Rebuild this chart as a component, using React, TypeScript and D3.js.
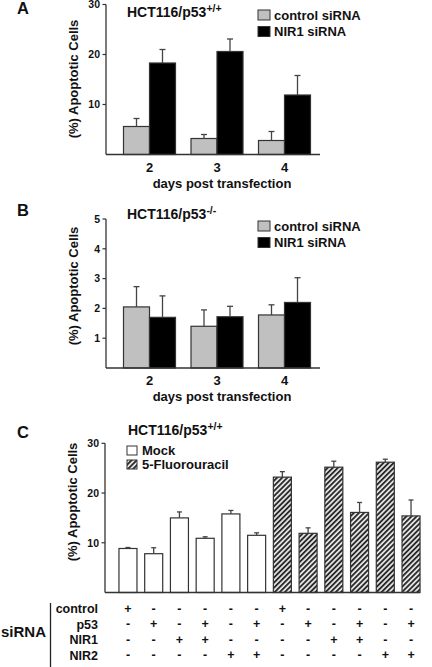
import React from "react";
import * as d3 from "d3";

// ---------- DATA ----------
const days = ["2", "3", "4"];
const seriesAB = ["control siRNA", "NIR1 siRNA"];
const aControl = [5.6, 3.2, 2.8];
const aControlErr = [7.2, 4.0, 4.6];
const aNIR1 = [18.3, 20.6, 11.9];
const aNIR1Err = [21.0, 23.1, 15.8];
const aTicks = [10, 20, 30];

const bControl = [2.05, 1.4, 1.78];
const bControlErr = [2.73, 1.95, 2.12];
const bNIR1 = [1.7, 1.72, 2.2];
const bNIR1Err = [2.42, 2.07, 3.03];
const bTicks = [1, 2, 3, 4, 5];

const cGroups = ["Mock", "5-Fluorouracil"];
const cTreatment = ["Mock", "Mock", "Mock", "Mock", "Mock", "Mock", "5-Fluorouracil", "5-Fluorouracil", "5-Fluorouracil", "5-Fluorouracil", "5-Fluorouracil", "5-Fluorouracil"];
const cValues = [8.85, 7.8, 15.0, 10.9, 15.8, 11.5, 23.2, 11.9, 25.2, 16.1, 26.2, 15.4];
const cErrTop = [9.05, 9.0, 16.2, 11.2, 16.5, 12.0, 24.3, 13.0, 26.4, 18.1, 26.8, 18.6];
const cTicks = [10, 20, 30];
const rowLabels = ["control", "p53", "NIR1", "NIR2"];
const signControl = ["+", "-", "-", "-", "-", "-", "+", "-", "-", "-", "-", "-"];
const signP53 = ["-", "+", "-", "+", "-", "+", "-", "+", "-", "+", "-", "+"];
const signNIR1 = ["-", "-", "+", "+", "-", "-", "-", "-", "+", "+", "-", "-"];
const signNIR2 = ["-", "-", "-", "-", "+", "+", "-", "-", "-", "-", "+", "+"];

const FONT = "'Liberation Sans', Arial, sans-serif";
const AXIS = "#333";
const ERR = "#444";

function YAxis({ x, y, ticks, fs }: { x: number; y: d3.ScaleLinear<number, number>; ticks: number[]; fs: number }) {
  const [y0, y1] = y.range();
  return (
    <g>
      <line x1={x} x2={x} y1={y1} y2={y0} stroke={AXIS} strokeWidth={1.3} />
      {ticks.map((t) => (
        <g key={t}>
          <line x1={x - 3.5} x2={x} y1={y(t)} y2={y(t)} stroke={AXIS} strokeWidth={1.2} />
          <text x={x - 6} y={y(t) + fs * 0.36} textAnchor="end" fontSize={fs} fontWeight="bold" fontFamily={FONT} fill="#111">
            {t}
          </text>
        </g>
      ))}
    </g>
  );
}

function ErrBar({ cx, yTop, yErr, cap }: { cx: number; yTop: number; yErr: number; cap: number }) {
  return (
    <g stroke={ERR} strokeWidth={1.3}>
      <line x1={cx} x2={cx} y1={yTop} y2={yErr} />
      <line x1={cx - cap / 2} x2={cx + cap / 2} y1={yErr} y2={yErr} />
    </g>
  );
}

function PanelAB({
  letter, top, y, ticks, control, controlErr, nir1, nir1Err, sup, legendY, labelCY,
}: any) {
  const xCenter = d3.scalePoint<string>().domain(days).range([149.5, 284.5]);
  const sub = d3.scaleBand<string>().domain(seriesAB).range([-26, 26]);
  const fills = ["#c0c0c0", "#000"];
  const vals = [control, nir1];
  const errs = [controlErr, nir1Err];
  const base = y(0);
  return (
    <g>
      <text x={17} y={top + 14} fontSize={16.5} fontWeight="bold" fontFamily={FONT} fill="#111">{letter}</text>
      <text x={127} y={top + 17} fontSize={14} fontWeight="bold" fontFamily={FONT} fill="#111">
        HCT116/p53<tspan fontSize={10.5} dy={-5.5}>{sup}</tspan>
      </text>
      {seriesAB.map((s, i) => (
        <g key={s}>
          <rect x={258} y={legendY + i * 16.5} width={12} height={10} fill={fills[i]} stroke={AXIS} strokeWidth={1} />
          <text x={274} y={legendY + i * 16.5 + 9.5} fontSize={13} fontWeight="bold" fontFamily={FONT} fill="#111">{s}</text>
        </g>
      ))}
      {days.map((d, di) =>
        seriesAB.map((s, si) => {
          const x0 = (xCenter(d) as number) + (sub(s) as number);
          const w = sub.bandwidth();
          const yt = y(vals[si][di]);
          return (
            <g key={d + s}>
              <rect x={x0} y={yt} width={w} height={base - yt} fill={fills[si]} stroke={AXIS} strokeWidth={1.2} />
              <ErrBar cx={x0 + w / 2} yTop={yt} yErr={y(errs[si][di])} cap={6} />
            </g>
          );
        })
      )}
      <YAxis x={106} y={y} ticks={ticks} fs={10.5} />
      <line x1={106} x2={320} y1={base} y2={base} stroke={AXIS} strokeWidth={1.3} />
      {days.map((d) => (
        <text key={d} x={xCenter(d) as number} y={base + 17} textAnchor="middle" fontSize={13} fontWeight="bold" fontFamily={FONT} fill="#111">{d}</text>
      ))}
      <text x={222} y={base + 33} textAnchor="middle" fontSize={13} fontWeight="bold" fontFamily={FONT} fill="#111">days post transfection</text>
      <text transform={`translate(78,${labelCY}) rotate(-90)`} textAnchor="middle" fontSize={13} fontWeight="bold" fontFamily={FONT} fill="#111">(%) Apoptotic Cells</text>
    </g>
  );
}

export default function App() {
  const yA = d3.scaleLinear().domain([0, 30]).range([154.5, 4.5]);
  const yB = d3.scaleLinear().domain([0, 5]).range([368, 219]);
  const yC = d3.scaleLinear().domain([0, 30]).range([592.5, 443.3]);
  const xC = d3.scaleBand<number>().domain(d3.range(cValues.length)).range([115.1, 423.9]).paddingInner(0.3).paddingOuter(0.15);
  const signRows = [signControl, signP53, signNIR1, signNIR2];
  const rowY = [613, 628.5, 644, 659.5];
  const cFill = (t: string) => (t === cGroups[0] ? "#fff" : "url(#hatch)");
  const baseC = yC(0);
  return (
    <svg width={432} height={667} style={{ position: "absolute", left: 0, top: 0, background: "#fff" }}>
      <defs>
        <pattern id="hatch" patternUnits="userSpaceOnUse" width={3.6} height={3.6} patternTransform="rotate(45)">
          <rect width={3.6} height={3.6} fill="#e6e6e6" />
          <line x1={0.9} x2={0.9} y1={0} y2={3.6} stroke="#2a2a2a" strokeWidth={1.9} />
        </pattern>
      </defs>
      <rect width={432} height={667} fill="#fff" />
      <PanelAB letter="A" top={0} y={yA} ticks={aTicks} control={aControl} controlErr={aControlErr} nir1={aNIR1} nir1Err={aNIR1Err} sup="+/+" legendY={10} labelCY={79} />
      <PanelAB letter="B" top={202} y={yB} ticks={bTicks} control={bControl} controlErr={bControlErr} nir1={bNIR1} nir1Err={bNIR1Err} sup="-/-" legendY={221} labelCY={286} />

      {/* Panel C */}
      <g>
        <text x={17} y={438} fontSize={16.5} fontWeight="bold" fontFamily={FONT} fill="#111">C</text>
        <text x={128} y={435} fontSize={14} fontWeight="bold" fontFamily={FONT} fill="#111">
          HCT116/p53<tspan fontSize={10.5} dy={-5.5}>+/+</tspan>
        </text>
        {cGroups.map((g, i) => (
          <g key={g}>
            <rect x={127} y={446 + i * 14} width={10} height={9} fill={i === 0 ? "#fff" : "url(#hatch)"} stroke={AXIS} strokeWidth={1} />
            <text x={142} y={454.5 + i * 14} fontSize={13} fontWeight="bold" fontFamily={FONT} fill="#111">{g}</text>
          </g>
        ))}
        {cValues.map((v, i) => {
          const x0 = xC(i) as number;
          const w = xC.bandwidth();
          const yt = yC(v);
          return (
            <g key={i}>
              <rect x={x0} y={yt} width={w} height={baseC - yt} fill={cFill(cTreatment[i])} stroke={AXIS} strokeWidth={1.2} />
              <ErrBar cx={x0 + w / 2} yTop={yt} yErr={yC(cErrTop[i])} cap={5} />
            </g>
          );
        })}
        <YAxis x={105} y={yC} ticks={cTicks} fs={10.5} />
        <line x1={105} x2={420} y1={baseC} y2={baseC} stroke={AXIS} strokeWidth={1.3} />
        <text transform="translate(77,502) rotate(-90)" textAnchor="middle" fontSize={13} fontWeight="bold" fontFamily={FONT} fill="#111">(%) Apoptotic Cells</text>

        {/* siRNA table */}
        <line x1={50.5} x2={50.5} y1={603} y2={667} stroke="#222" strokeWidth={1.3} />
        <text x={1} y={637} fontSize={15} fontWeight="bold" fontFamily={FONT} fill="#111">siRNA</text>
        {rowLabels.map((r, ri) => (
          <g key={r}>
            <text x={98} y={rowY[ri]} textAnchor="end" fontSize={12.5} fontWeight="bold" fontFamily={FONT} fill="#111">{r}</text>
            {signRows[ri].map((s, i) => (
              <text key={i} x={(xC(i) as number) + xC.bandwidth() / 2} y={rowY[ri] - 0.5} textAnchor="middle" fontSize={12.5} fontWeight="bold" fontFamily={FONT} fill="#111">{s}</text>
            ))}
          </g>
        ))}
      </g>
    </svg>
  );
}
